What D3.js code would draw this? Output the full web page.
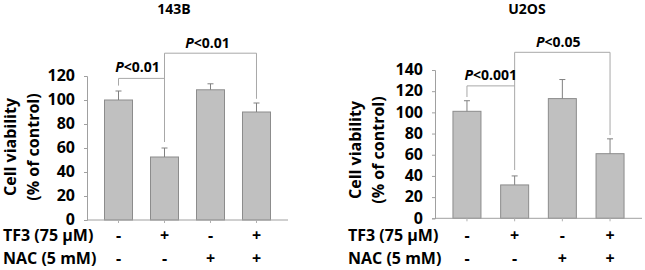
<!DOCTYPE html>
<html><head><meta charset="utf-8">
<script src="https://cdn.jsdelivr.net/npm/d3@7"></script>
<style>
html,body{margin:0;padding:0;background:#fff;}
svg{display:block;}
text{font-family:"Open Sans",sans-serif;font-weight:bold;fill:#000;}
</style></head>
<body>
<svg id="c" width="645" height="270"></svg>
<script>
const conditions = ["ctrl", "TF3", "NAC", "TF3+NAC"];
const tf3Signs = ["-", "+", "-", "+"];
const nacSigns = ["-", "-", "+", "+"];
const rowLabels = ["TF3 (75 \u03BCM)", "NAC (5 mM)"];

const values143B = [100, 52.5, 108.5, 90];
const errors143B = [7.5, 7.5, 5, 7.5];
const ticks143B = [0, 20, 40, 60, 80, 100, 120];
const sig143B = ["P<0.01", "P<0.01"];

const valuesU2OS = [101, 31.5, 113, 61];
const errorsU2OS = [10, 8.5, 18, 14];
const ticksU2OS = [0, 20, 40, 60, 80, 100, 120, 140];
const sigU2OS = ["P<0.001", "P<0.05"];

const svg = d3.select("#c");

function panel(o) {
  const g = svg.append("g");
  const x = d3.scalePoint().domain(conditions).range([o.x0, o.x1]).padding(o.pad);
  const y = d3.scaleLinear().domain([0, o.ymax]).range([o.yb, o.yt]);
  const bw = 28;

  // title
  g.append("text").attr("x", o.titleX).attr("y", 14).attr("text-anchor", "middle")
    .style("font-size", "14px").text(o.title);

  // y axis
  const ya = g.append("g").attr("transform", `translate(${o.x0},0)`)
    .call(d3.axisLeft(y).tickValues(o.ticks).tickSize(3).tickPadding(9));
  ya.select(".domain").attr("stroke", "#a0a0a0");
  ya.selectAll(".tick line").attr("stroke", "#a0a0a0");
  ya.selectAll(".tick text").style("font-size", "16px").style("font-family", "'Open Sans',sans-serif").style("font-weight", "bold").attr("fill", "#000").attr("dy", "0.3em");

  // y label
  const lab = g.append("text").attr("transform", `translate(${o.labX},${o.labY}) rotate(-90)`)
    .attr("text-anchor", "middle").style("font-size", "16px");
  lab.append("tspan").attr("x", 0).attr("dy", 0).text("Cell viability");
  lab.append("tspan").attr("x", 0).attr("dy", o.labGap).text("(% of control)");

  // bars
  g.selectAll("rect.bar").data(o.values).join("rect").attr("class", "bar")
    .attr("x", (d, i) => x(conditions[i]) - bw / 2)
    .attr("y", d => y(d))
    .attr("width", bw).attr("height", d => y(0) - y(d))
    .attr("fill", "#c0c0c0").attr("stroke", "#8c8c8c").attr("stroke-width", 1);

  // error bars
  o.values.forEach((v, i) => {
    const cx = x(conditions[i]);
    g.append("line").attr("x1", cx).attr("x2", cx).attr("y1", y(v)).attr("y2", y(v + o.errors[i]))
      .attr("stroke", "#808080").attr("stroke-width", 1);
    g.append("line").attr("x1", cx - 3).attr("x2", cx + 3).attr("y1", y(v + o.errors[i])).attr("y2", y(v + o.errors[i]))
      .attr("stroke", "#808080").attr("stroke-width", 1);
  });

  // x axis line + small ticks at category centres
  g.append("line").attr("x1", o.x0).attr("x2", o.xEnd).attr("y1", y(0)).attr("y2", y(0))
    .attr("stroke", "#a0a0a0");
  g.selectAll(null).data(conditions).join("line")
    .attr("x1", d => x(d)).attr("x2", d => x(d))
    .attr("y1", y(0)).attr("y2", y(0) + 3).attr("stroke", "#b0b0b0");

  // brackets
  const c0 = x(conditions[0]), c1 = x(conditions[1]), c3 = x(conditions[3]);
  const b = o.br;
  const path1 = d3.path();
  path1.moveTo(c0, y(b.l1)); path1.lineTo(c0, y(b.h1)); path1.lineTo(c1, y(b.h1));
  const path2 = d3.path();
  path2.moveTo(c1, y(b.r1)); path2.lineTo(c1, y(b.h2)); path2.lineTo(c3, y(b.h2)); path2.lineTo(c3, y(b.r2));
  [path1, path2].forEach(p => g.append("path").attr("d", p.toString()).attr("fill", "none")
    .attr("stroke", "#a8a8a8").attr("stroke-width", 1));

  const s1 = g.append("text").attr("x", (c0 + c1) / 2 + o.s1dx).attr("y", y(b.h1) - 6)
    .attr("text-anchor", "middle").style("font-size", "14px");
  s1.append("tspan").style("font-style", "italic").text(o.sig[0].charAt(0));
  s1.append("tspan").text(o.sig[0].slice(1));
  const s2 = g.append("text").attr("x", (c1 + c3) / 2 + o.s2dx).attr("y", y(b.h2) - 5)
    .attr("text-anchor", "middle").style("font-size", "14px");
  s2.append("tspan").style("font-style", "italic").text(o.sig[1].charAt(0));
  s2.append("tspan").text(o.sig[1].slice(1));

  // row labels
  g.append("text").attr("x", o.rowX).attr("y", 241).style("font-size", "16px").text(rowLabels[0]);
  g.append("text").attr("x", o.rowX).attr("y", 264).style("font-size", "16px").text(rowLabels[1]);
  [tf3Signs, nacSigns].forEach((signs, r) => {
    g.selectAll(null).data(signs).join("text")
      .attr("x", (d, i) => x(conditions[i])).attr("y", r === 0 ? 241 : 264)
      .attr("text-anchor", "middle").style("font-size", "16px").text(d => d);
  });
}

panel({
  title: "143B", titleX: 174, x0: 87, x1: 288, xEnd: 288, pad: 0.685,
  ymax: 120, yb: 220, yt: 76, ticks: ticks143B,
  values: values143B, errors: errors143B, sig: sig143B,
  br: { h1: 118, l1: 112, r1: 65, h2: 139, r2: 101 },
  s1dx: -4, s2dx: -3,
  labX: 16, labY: 147, labGap: 23, rowX: 3
});

panel({
  title: "U2OS", titleX: 527, x0: 435, x1: 642, xEnd: 642, pad: 0.67,
  ymax: 140, yb: 218.3, yt: 70, ticks: ticksU2OS,
  values: valuesU2OS, errors: errorsU2OS, sig: sigU2OS,
  br: { h1: 125, l1: 114.5, r1: 45.6, h2: 156.7, r2: 78.6 },
  s1dx: 0, s2dx: -4,
  labX: 361, labY: 150, labGap: 23, rowX: 348
});
</script>
</body></html>
